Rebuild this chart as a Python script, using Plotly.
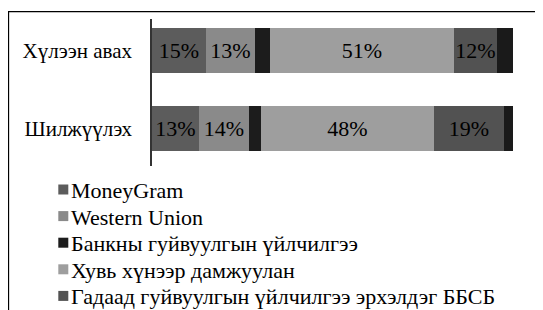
import plotly.graph_objects as go

categories = ["Хүлээн авах", "Шилжүүлэх"]
series_names = [
    "MoneyGram",
    "Western Union",
    "Банкны гуйвуулгын үйлчилгээ",
    "Хувь хүнээр дамжуулан",
    "Гадаад гуйвуулгын үйлчилгээ эрхэлдэг ББСБ",
    "Бусад",
]
moneygram = [15, 13]
western_union = [13.4, 14]
bank = [4.4, 3.3]
individual = [50.8, 47.8]
nbfi = [12, 19.4]
other = [4.4, 2.5]
values = [moneygram, western_union, bank, individual, nbfi, other]
show_label = [True, True, False, True, True, False]
in_legend = [True, True, True, True, True, False]
colors = ["#5c5c5c", "#8a8a8a", "#1c1c1c", "#9e9e9e", "#525252", "#1a1a1a"]

FONT = "Liberation Serif, Times New Roman, serif"

fig = go.Figure()
for name, vals, lab, col in zip(series_names, values, show_label, colors):
    fig.add_trace(go.Bar(
        y=categories, x=vals, name=name, orientation="h",
        marker=dict(color=col, line=dict(width=0)),
        width=0.57,
        text=[f"{v:.0f}%" for v in vals] if lab else None,
        textposition="inside" if lab else "none",
        insidetextanchor="middle",
        textangle=0,
        textfont=dict(family=FONT, size=22, color="black"),
        constraintext="none",
        showlegend=False,
        hoverinfo="skip",
    ))

# page body has an 8px margin; the figure is shifted by OFF
OFF = 8
W, H = 543 - OFF, 310 - OFF
L, R, T, B = 152 - OFF, 30, 19 - OFF, 144
pw, ph = W - L - R, H - T - B

def px_x(p):
    return (p - OFF - L) / pw

def px_y(p):
    return (H - B - (p - OFF)) / ph

shapes = [dict(
    type="rect", xref="paper", yref="paper",
    x0=px_x(8.5), x1=px_x(560), y0=px_y(11.7), y1=px_y(330),
    line=dict(color="black", width=1.3), fillcolor="rgba(0,0,0,0)",
    layer="below",
)]
annotations = []
row0, step = 189.5, 26.6
k = 0
for name, leg, col in zip(series_names, in_legend, colors):
    if not leg:
        continue
    cy = row0 + k * step
    shapes.append(dict(
        type="rect", xref="paper", yref="paper",
        x0=px_x(58.3), x1=px_x(68.3), y0=px_y(cy - 5), y1=px_y(cy + 5),
        line=dict(width=0), fillcolor=col,
    ))
    annotations.append(dict(
        xref="paper", yref="paper", x=px_x(68.5), y=px_y(cy + 1),
        xanchor="left", yanchor="middle", showarrow=False, text=name,
        font=dict(family=FONT, size=22, color="black"),
    ))
    k += 1

fig.update_layout(
    width=W, height=H,
    margin=dict(l=L, r=R, t=T, b=B, pad=0, autoexpand=False),
    barmode="stack",
    bargap=0,
    showlegend=False,
    paper_bgcolor="white", plot_bgcolor="white",
    font=dict(family=FONT, size=21, color="black"),
    xaxis=dict(range=[0, 100], visible=False, fixedrange=True),
    yaxis=dict(
        range=[1.48, -0.405], showline=True, linecolor="#333333", linewidth=1.5,
        ticks="", showgrid=False, zeroline=False,
        tickfont=dict(family=FONT, size=21, color="black"),
        ticklabelstandoff=14,
    ),
    shapes=shapes,
    annotations=annotations,
)

fig.write_html("out.html")
